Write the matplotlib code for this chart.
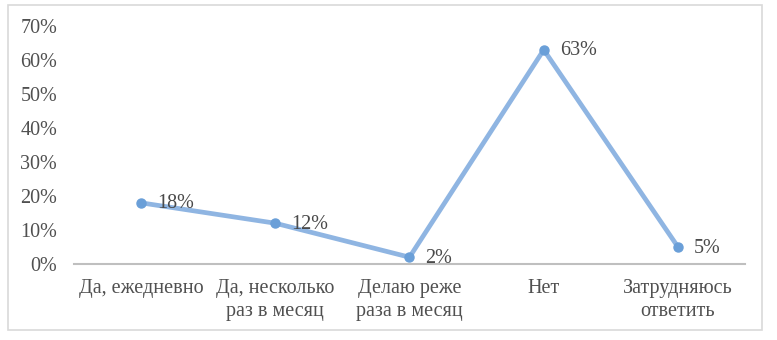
import matplotlib.pyplot as plt
from matplotlib.patches import Rectangle
from matplotlib.ticker import PercentFormatter

categories = ["Да, ежедневно", "Да, несколько\nраз в месяц", "Делаю реже\nраза в месяц",
              "Нет", "Затрудняюсь\nответить"]
values = [18, 12, 2, 63, 5]
labels = ["18%", "12%", "2%", "63%", "5%"]

plt.rcParams['font.family'] = ['Liberation Serif', 'DejaVu Serif']

fig = plt.figure(figsize=(7.77, 3.40), dpi=100)
ax = fig.add_axes([0.095, 0.2235, 0.864, 0.70])

x = range(len(categories))
ax.plot(x, values, color="#8fb5e2", lw=3.4, solid_capstyle="round",
        marker="o", markersize=6.5, markerfacecolor="#6a9fd8", markeredgecolor="#6a9fd8")

# data labels right of each point
for xi, v, t in zip(x, values, labels):
    ax.annotate(t, (xi, v), xytext=(16, -1), textcoords="offset pixels",
                ha="left", va="center", fontsize=14.5, color="#4a4a4a")

ax.set_xlim(-0.5, len(categories) - 0.5)
ax.set_ylim(0, 70)
ax.set_yticks(range(0, 71, 10))
ax.yaxis.set_major_formatter(PercentFormatter(decimals=0))
ax.set_xticks(list(x))
ax.set_xticklabels(categories, linespacing=1.3)
ax.tick_params(length=0, labelsize=14.5, labelcolor="#505050")
ax.tick_params(axis="y", pad=12)
ax.tick_params(axis="x", pad=11)

for s in ["top", "right", "left"]:
    ax.spines[s].set_visible(False)
ax.spines["bottom"].set_color("#bfbfbf")
ax.spines["bottom"].set_linewidth(1.5)

fig.patches.append(Rectangle((8 / 777, 1 - 330 / 340), 754 / 777, 325 / 340,
                             transform=fig.transFigure, fill=False,
                             edgecolor="#d9d9d9", lw=1.2))

fig.savefig("out.png", dpi=100)
